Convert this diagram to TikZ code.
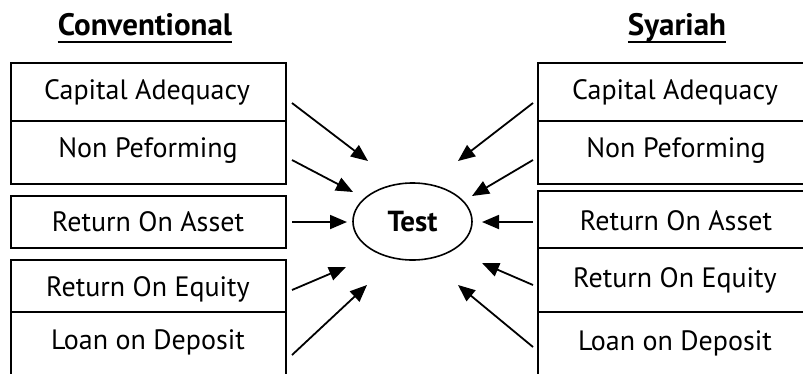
\documentclass[tikz,border=0pt]{standalone}
\usepackage{fontspec}
\setmainfont{PT Sans}
\usetikzlibrary{arrows.meta}
\tikzset{
  boxline/.style={line width=2pt},
  lbl/.style={inner sep=0pt, font=\fontsize{28}{32}\selectfont},
  ttl/.style={inner sep=0pt, anchor=base, font=\fontsize{31}{34}\selectfont\bfseries},
  uline/.style={line width=2pt},
  arr/.style={line width=1.8pt, -{Triangle[length=17pt,width=14pt]}},
}
\begin{document}
\begin{tikzpicture}[x=1pt,y=-1pt]
\useasboundingbox (0,0) rectangle (803,373);
\clip (0,0) rectangle (803,373);
% titles
\node[ttl] (tconv) at (145,35) {Conventional};
\node[ttl] (tsya) at (677,35) {Syariah};
\draw[uline] ([yshift=-7pt]tconv.base west) -- ([yshift=-7pt]tconv.base east);
\draw[uline] ([yshift=-7pt]tsya.base west) -- ([yshift=-7pt]tsya.base east);
% left boxes
\draw[boxline] (11,63) rectangle (286,121);
\draw[boxline] (11,121) rectangle (286,184);
\draw[boxline] (11,196) rectangle (286,248);
\draw[boxline] (11,260) rectangle (286,312);
\draw[boxline] (11,312) rectangle (286,400);
% right boxes
\draw[boxline] (538,63) rectangle (815,121);
\draw[boxline] (538,121) rectangle (815,184);
\draw[boxline] (538,191) rectangle (815,248);
\draw[boxline] (538,248) rectangle (815,312);
\draw[boxline] (538,312) rectangle (815,400);
% labels
\node[lbl] (l1) at (147,92) {Capital Adequacy};
\node[lbl] (l2) at (148,151) {Non Peforming};
\node[lbl] (l3) at (148,222) {Return On Asset};
\node[lbl] (l4) at (148,289) {Return On Equity};
\node[lbl] (l5) at (148,342) {Loan on Deposit};
\node[lbl] (r1) at (675,92) {Capital Adequacy};
\node[lbl] (r2) at (676,151) {Non Peforming};
\node[lbl] (r3) at (676,221) {Return On Asset};
\node[lbl] (r4) at (675,280) {Return On Equity};
\node[lbl] (r5) at (675,343) {Loan on Deposit};
% ellipse
\draw[line width=1.6pt] (412.5,221.5) ellipse [x radius=59.5, y radius=38.5];
\node[inner sep=0pt, font=\fontsize{29}{32}\selectfont\bfseries] (test) at (412.5,222) {Test};
% arrow endpoints
\coordinate (a1) at (292,103); \coordinate (b1) at (368,161);
\coordinate (a2) at (292,160); \coordinate (b2) at (353,192);
\coordinate (a3) at (292,222); \coordinate (b3) at (347,222);
\coordinate (a4) at (292,290); \coordinate (b4) at (346,267);
\coordinate (a5) at (292,355); \coordinate (b5) at (367,285);
\coordinate (c1) at (533,103); \coordinate (d1) at (458,161);
\coordinate (c2) at (533,160); \coordinate (d2) at (472,196);
\coordinate (c3) at (533,222); \coordinate (d3) at (482,222);
\coordinate (c4) at (533,285); \coordinate (d4) at (482,263);
\coordinate (c5) at (533,347); \coordinate (d5) at (458,285);
\foreach \i in {1,...,5} {
  \draw[arr] (a\i) -- (b\i);
  \draw[arr] (c\i) -- (d\i);
}
\end{tikzpicture}
\end{document}
